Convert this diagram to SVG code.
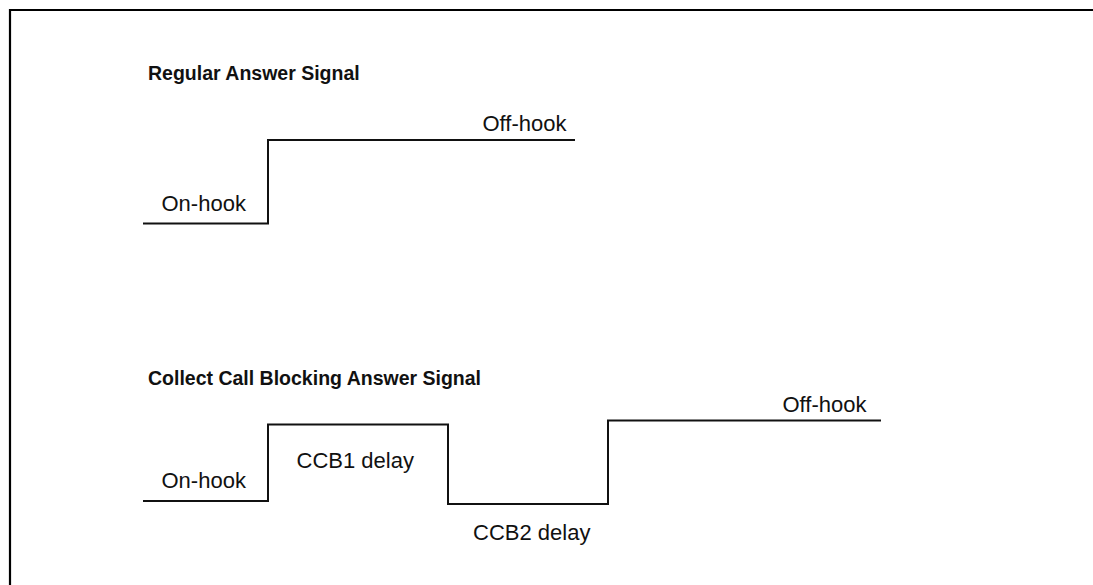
<svg xmlns="http://www.w3.org/2000/svg" width="1093" height="585" viewBox="0 0 1093 585">
<style>
.wave{fill:none;stroke:#111;stroke-width:2;stroke-linejoin:miter}
.border{fill:none;stroke:#000;stroke-width:2.2}
.title{font-family:"Liberation Sans",Arial,sans-serif;font-weight:bold;font-size:19.5px;fill:#111}
.lbl{font-family:"Liberation Sans",Arial,sans-serif;font-size:22px;fill:#111}
</style>
<rect width="1093" height="585" fill="#fff"/>
<path class="border" d="M10,585 V10 H1093"/>
<g id="regular">
<text class="title" x="148" y="80">Regular Answer Signal</text>
<path class="wave" d="M143,223.5 H268 V140 H575"/>
<text class="lbl" x="161.5" y="210.5">On-hook</text>
<text class="lbl" x="482.5" y="130.5">Off-hook</text>
</g>
<g id="ccb">
<text class="title" x="148" y="385">Collect Call Blocking Answer Signal</text>
<path class="wave" d="M143,501 H268 V424.5 H448 V504 H608 V420.5 H881"/>
<text class="lbl" x="161.5" y="488">On-hook</text>
<text class="lbl" x="296.5" y="467.5">CCB1 delay</text>
<text class="lbl" x="473" y="540">CCB2 delay</text>
<text class="lbl" x="782.5" y="411.5">Off-hook</text>
</g>
</svg>
